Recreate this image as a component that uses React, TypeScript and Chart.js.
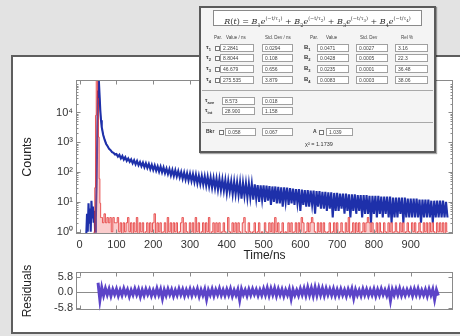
import React, { useEffect, useRef } from 'react';
import { Chart, registerables } from 'chart.js';

Chart.register(...registerables);
Chart.defaults.font.family = '"Liberation Sans", Arial, sans-serif';

// ---------- data ----------
// decay histogram (blue): early part 2 ns bins, tail 4 ns bins
const earlyT0 = 18;
const earlyStep = 2;
const tailT0 = 60;
const tailStep = 4;

const decayEarly = [0, 4, 1, 9, 2, 6, 1, 11, 3, 7, 2, 5, 1, 3, 40, 3000, 50000, 125000, 40000, 12000, 5500];
const decayTail = [
  3200, 1750, 1200, 880, 740, 600, 545, 470, 445, 390,
  405, 330, 380, 288, 350, 262, 318, 238, 285, 222,
  268, 198, 250, 182, 238, 170, 218, 158, 208, 146,
  198, 138, 188, 126, 176, 118, 168, 112, 156, 104,
  152, 98, 143, 92, 132, 86, 127, 78, 119, 74,
  116, 71, 108, 66, 101, 60, 97, 56, 92, 52,
  89, 50, 85, 46, 82, 42, 76, 40, 74, 38,
  72, 35, 70, 33, 66, 30, 63, 29, 61, 26,
  60, 25, 57, 24, 54, 20, 51, 22, 49, 18,
  48, 18, 46, 17, 45, 13, 43, 16, 42, 14,
  41, 14, 40, 12, 39, 13, 37, 10, 36, 12,
  36, 10, 35, 11, 34, 8, 33, 10, 33, 9,
  32, 9, 31, 7, 31, 10, 30, 8, 29, 9,
  28, 8, 27, 9, 27, 5, 26, 8, 25, 7,
  25, 7, 24, 8, 24, 4, 23, 7, 23, 6,
  22, 6, 22, 5, 21, 6, 21, 3, 20, 5,
  20, 5, 19, 6, 19, 4, 19, 5, 18, 3,
  18, 5, 18, 4, 17, 5, 17, 3, 17, 4,
  17, 4, 16, 2, 16, 4, 16, 3, 16, 4,
  15, 3, 15, 4, 15, 3, 15, 2, 14, 3,
  14, 3, 14, 4, 14, 2, 14, 3, 13, 3,
  13, 3, 13, 3, 13, 3, 12, 2, 12, 3,
  12, 3, 12, 3, 11, 2, 11, 3, 11, 3,
  11, 3, 11, 3, 10, 3,
];

// instrument response (red)
const irfEarly = [0, 0, 0, 0, 0, 0, 0, 0, 0, 0, 0, 1, 30, 8000, 125000, 125000, 30000, 1500, 60, 9, 3];
const irfTail = [
  3, 2, 4, 2, 3, 2, 3, 1, 3, 2,
  2, 3, 1, 2, 0, 2, 1, 2, 3, 1,
  2, 0, 2, 1, 3, 0, 2, 1, 2, 0,
  1, 2, 0, 2, 1, 2, 4, 0, 2, 1,
  2, 0, 1, 2, 0, 3, 1, 2, 0, 2,
  1, 2, 0, 1, 2, 3, 0, 2, 1, 0,
  2, 1, 2, 0, 3, 1, 2, 0, 1, 2,
  0, 2, 1, 3, 0, 1, 2, 0, 2, 1,
  2, 0, 1, 2, 1, 0, 3, 1, 0, 2,
  1, 2, 0, 2, 1, 0, 2, 3, 1, 0,
  2, 1, 0, 1, 2, 0, 1, 2, 0, 1,
  0, 2, 1, 0, 2, 1, 2, 0, 3, 1,
  2, 0, 1, 2, 0, 1, 0, 2, 1, 2,
  0, 1, 2, 0, 2, 1, 3, 2, 0, 1,
  2, 1, 2, 3, 2, 1, 0, 2, 1, 2,
  0, 2, 1, 0, 1, 2, 0, 1, 2, 0,
  2, 0, 1, 2, 1, 0, 2, 1, 3, 0,
  1, 2, 0, 2, 1, 2, 0, 1, 2, 1,
  2, 3, 2, 1, 2, 0, 1, 2, 0, 2,
  1, 0, 2, 1, 0, 2, 1, 2, 0, 1,
  2, 1, 0, 2, 1, 2, 0, 1, 2, 1,
  0, 2, 1, 2, 0, 1, 2, 1, 0, 2,
  1, 2, 0, 2, 1, 2, 1, 0, 2, 1,
  2, 1, 2, 0, 2, 1,
];

// fitted curve
const fitTimes = [52, 56, 60, 66, 72, 80, 90, 100, 120, 150, 200, 250, 300, 400, 500, 600, 700, 800, 900, 1000];
const fitCounts = [100000, 11000, 3000, 1450, 920, 610, 460, 370, 280, 205, 140, 97, 70, 36, 23, 16, 11.5, 8.8, 7, 5.2];

// weighted residuals
const residT0 = 50;
const residStep = 5;
const residuals = [
  3.6, -2.9, 1.8, -1.2, 1.5, -0.9, 1.3, -1.4, 1.1, -0.8,
  1.2, -1.3, 0.9, -1.1, 1.4, -0.7, 1.0, -1.5, 0.8, -1.0,
  1.3, -0.9, 1.1, -1.6, 0.9, -1.2, 1.2, -0.8, 1.0, -1.3,
  0.8, -1.1, 1.4, -1.0, 1.1, -2.3, 0.9, -1.2, 1.2, -0.9,
  1.0, -1.4, 0.8, -1.1, 1.3, -0.9, 1.1, -1.3, 0.9, -1.0,
  1.2, -1.2, 1.0, -0.8, 1.3, -1.5, 0.9, -1.1, 1.1, -2.6,
  0.8, -1.0, 1.2, -1.3, 1.0, -0.9, 1.4, -1.1, 0.9, -1.2,
  1.1, -1.0, 1.3, -1.4, 0.8, -1.1, 1.0, -2.9, 1.2, -0.9,
  0.9, -1.3, 1.1, -1.0, 1.2, -0.8, 1.0, -1.2, 0.9, -1.1,
  1.3, -1.0, 1.6, -1.2, 1.4, -0.9, 1.5, -1.3, 1.2, -1.0,
  1.1, -1.4, 0.9, -1.0, 1.2, -2.4, 1.0, -1.1, 0.8, -1.2,
  1.3, -0.9, 1.5, -1.2, 1.8, -1.0, 1.6, -1.3, 1.9, -1.1,
  1.7, -1.0, 1.5, -1.2, 1.4, -0.9, 1.2, -1.1, 1.3, -1.3,
  1.0, -1.2, 1.2, -1.0, 0.9, -1.4, 1.1, -0.9, 1.3, -2.2,
  1.0, -1.1, 0.8, -1.3, 1.2, -1.0, 1.1, -1.2, 0.9, -1.0,
  1.2, -1.4, 1.0, -1.1, 1.3, -0.9, 0.9, -1.2, 1.1, -3.1,
  1.0, -1.1, 1.2, -1.0, 1.4, -1.2, 0.9, -1.1, 1.0, -0.8,
  1.1, -1.3, 1.2, -1.0, 1.3, -1.2, 0.8, -1.1, 1.0, -1.4,
  1.2, -1.0, 1.1, -2.7, 0.9, -1.2,
];

// axes
const xMin = -10;
const xMax = 1015;
const xTickValues = [0, 100, 200, 300, 400, 500, 600, 700, 800, 900];
const yMin = 0.84;
const yMax = 123000;
const yTickValues = [1, 10, 100, 1000, 10000];
const yTickLabels = ['10⁰', '10¹', '10²', '10³', '10⁴'];
const residMin = -6.8;
const residMax = 7.8;
const residTickValues = [-5.8, 0, 5.8];
const residTickLabels = ['-5.8', '0.0', '5.8'];

// fit-parameter panel
const tauValues = ['2.2841', '8.8044', '46.679', '275.535'];
const tauErrors = ['0.0294', '0.108', '0.656', '3.879'];
const ampValues = ['0.0471', '0.0428', '0.0235', '0.0083'];
const ampErrors = ['0.0027', '0.0005', '0.0001', '0.0003'];
const relPercents = ['3.16', '22.3', '36.48', '38.06'];
const avgLabels = ['ave', 'int'];
const avgValues = ['8.573', '28.900'];
const avgErrors = ['0.018', '1.158'];
const bkrValue = '0.058';
const bkrError = '0.067';
const aValue = '1.039';
const chiSquared = '1.1739';

// ---------- helpers ----------
const toPoints = (t0: number, step: number, vals: number[]) =>
  vals.map((v, i) => ({ x: t0 + i * step, y: v <= 0 ? yMin : v }));

const framePlugin = {
  id: 'frame',
  beforeDatasetsDraw(chart: any, _a: any, opts: any) {
    if (!opts.zeroLine) return;
    const { ctx, chartArea: a, scales } = chart;
    const py = Math.round(scales.y.getPixelForValue(0)) + 0.5;
    ctx.save();
    ctx.strokeStyle = '#8c8c8c';
    ctx.lineWidth = 1;
    ctx.beginPath();
    ctx.moveTo(a.left, py);
    ctx.lineTo(a.right, py);
    ctx.stroke();
    ctx.restore();
  },
  afterDatasetsDraw(chart: any, _a: any, opts: any) {
    const { ctx, chartArea: a, scales } = chart;
    const xs = scales.x;
    const ys = scales.y;
    ctx.save();
    ctx.strokeStyle = '#8a8a8a';
    ctx.lineWidth = 1;
    const seg = (x1: number, y1: number, x2: number, y2: number) => {
      ctx.beginPath();
      ctx.moveTo(x1, y1);
      ctx.lineTo(x2, y2);
      ctx.stroke();
    };
    const L = Math.round(a.left) + 0.5;
    const R = Math.round(a.right) - 0.5;
    const T = Math.round(a.top) + 0.5;
    const B = Math.round(a.bottom) - 0.5;
    ctx.strokeRect(L, T, R - L, B - T);
    for (const v of opts.xTicks || []) {
      const px = Math.round(xs.getPixelForValue(v)) + 0.5;
      seg(px, B, px, B - 4);
      seg(px, T, px, T + 4);
    }
    for (const t of opts.yTicks || []) {
      const py = Math.round(ys.getPixelForValue(t.v)) + 0.5;
      seg(L, py, L + t.len, py);
      seg(R, py, R - t.len, py);
    }
    ctx.restore();
  },
};

const tickFont = { size: 11 };
const titleFont = { size: 12 };

function DecayChart() {
  const ref = useRef<HTMLCanvasElement>(null);
  useEffect(() => {
    const bluePts = [...toPoints(earlyT0, earlyStep, decayEarly), ...toPoints(tailT0, tailStep, decayTail)];
    const redPts = [...toPoints(earlyT0, earlyStep, irfEarly), ...toPoints(tailT0, tailStep, irfTail)];
    const fitPts = fitTimes.map((t, i) => ({ x: t, y: fitCounts[i] }));
    const yTicks: { v: number; len: number }[] = [];
    yTickValues.forEach((d) => {
      yTicks.push({ v: d, len: 4 });
      for (let m = 2; m <= 9; m++) if (d * m < yMax) yTicks.push({ v: d * m, len: 2 });
    });
    const chart = new Chart(ref.current as HTMLCanvasElement, {
      type: 'line',
      data: {
        datasets: [
          { data: redPts, borderColor: 'rgba(226,38,38,0.75)', backgroundColor: 'rgba(240,110,110,0.35)', fill: 'start', stepped: 'middle', borderWidth: 1, pointRadius: 0 },
          { data: bluePts, borderColor: 'rgb(30,48,170)', borderWidth: 2.1, pointRadius: 0, tension: 0, fill: false },
          { data: fitPts, borderColor: 'rgb(120,150,120)', borderWidth: 1, pointRadius: 0, tension: 0, fill: false },
        ],
      },
      options: {
        animation: false,
        responsive: false,
        maintainAspectRatio: false,
        layout: { padding: { left: 0, right: 5, top: 10, bottom: 0 } },
        plugins: {
          legend: { display: false },
          tooltip: { enabled: false },
          frame: { xTicks: xTickValues, yTicks },
        } as any,
        scales: {
          x: {
            type: 'linear',
            min: xMin,
            max: xMax,
            afterBuildTicks: (s: any) => { s.ticks = xTickValues.map((v) => ({ value: v })); },
            afterFit: (s: any) => { s.height = 32; },
            grid: { display: false, drawTicks: false, tickLength: 0 },
            border: { display: false },
            ticks: { font: tickFont, color: '#333', padding: 4, maxRotation: 0, autoSkip: false },
            title: { display: true, text: 'Time/ns', font: titleFont, color: '#222', padding: { top: 0, bottom: 3.5 } },
          },
          y: {
            type: 'logarithmic',
            min: yMin,
            max: yMax,
            afterBuildTicks: (s: any) => { s.ticks = yTickValues.map((v) => ({ value: v })); },
            afterFit: (s: any) => { s.width = 62; },
            grid: { display: false, drawTicks: false, tickLength: 0 },
            border: { display: false },
            ticks: {
              font: tickFont,
              color: '#333',
              padding: 3,
              autoSkip: false,
              callback: (v: any) => yTickLabels[yTickValues.indexOf(Number(v))] ?? '',
            },
            title: { display: true, text: 'Counts', font: { size: 12.5 }, color: '#222', padding: { top: 6.5, bottom: 0 } },
          },
        },
      } as any,
      plugins: [framePlugin as any],
    });
    return () => chart.destroy();
  }, []);
  return <canvas ref={ref} width={444} height={196} style={{ position: 'absolute', left: 14, top: 70, width: 444, height: 196 }} />;
}

function ResidualChart() {
  const ref = useRef<HTMLCanvasElement>(null);
  useEffect(() => {
    const pts = residuals.map((v, i) => ({ x: residT0 + i * residStep, y: v }));
    const chart = new Chart(ref.current as HTMLCanvasElement, {
      type: 'line',
      data: {
        datasets: [
          { data: pts, borderColor: 'rgb(92,68,200)', borderWidth: 3, pointRadius: 0, tension: 0, fill: false },
        ],
      },
      options: {
        animation: false,
        responsive: false,
        maintainAspectRatio: false,
        layout: { padding: { left: 0, right: 5, top: 6.5, bottom: 0 } },
        plugins: {
          legend: { display: false },
          tooltip: { enabled: false },
          frame: { xTicks: xTickValues, yTicks: residTickValues.map((v) => ({ v, len: 4 })), zeroLine: true },
        } as any,
        scales: {
          x: {
            type: 'linear',
            min: xMin,
            max: xMax,
            afterBuildTicks: (s: any) => { s.ticks = xTickValues.map((v) => ({ value: v })); },
            afterFit: (s: any) => { s.height = 8; },
            grid: { display: false, drawTicks: false, tickLength: 0 },
            border: { display: false },
            ticks: { display: false },
          },
          y: {
            type: 'linear',
            min: residMin,
            max: residMax,
            afterBuildTicks: (s: any) => { s.ticks = residTickValues.map((v) => ({ value: v })); },
            afterFit: (s: any) => { s.width = 62; },
            grid: { display: false, drawTicks: false, tickLength: 0 },
            border: { display: false },
            ticks: {
              font: tickFont,
              color: '#333',
              padding: 3,
              autoSkip: false,
              callback: (v: any) => residTickLabels[residTickValues.indexOf(Number(v))] ?? '',
            },
            title: { display: true, text: 'Residuals', font: titleFont, color: '#222', padding: { top: 6.5, bottom: 0 } },
          },
        },
      } as any,
      plugins: [framePlugin as any],
    });
    return () => chart.destroy();
  }, []);
  return <canvas ref={ref} width={444} height={58} style={{ position: 'absolute', left: 14, top: 262, width: 444, height: 58 }} />;
}

// ---------- fit parameter panel ----------
const small = '"Liberation Sans", Arial, sans-serif';

function Field({ x, y, w, text }: { x: number; y: number; w: number; text: string }) {
  return (
    <div style={{ position: 'absolute', left: x, top: y, width: w, height: 8, boxSizing: 'border-box', border: '1px solid #a0a0a0', background: '#fff', font: `5px ${small}`, lineHeight: '6px', paddingLeft: 2, color: '#444', whiteSpace: 'nowrap', overflow: 'hidden' }}>{text}</div>
  );
}

function Check({ x, y }: { x: number; y: number }) {
  return <div style={{ position: 'absolute', left: x, top: y, width: 5, height: 5, boxSizing: 'border-box', border: '1px solid #777', background: '#fff' }} />;
}

function Label({ x, y, children, size = 6 }: { x: number; y: number; children: any; size?: number }) {
  return <div style={{ position: 'absolute', left: x, top: y, font: `bold ${size}px ${small}`, color: '#333', whiteSpace: 'nowrap', lineHeight: '7px' }}>{children}</div>;
}

function Header({ x, text }: { x: number; text: string }) {
  return <div style={{ position: 'absolute', left: x, top: 35, font: `4.5px ${small}`, color: '#444', whiteSpace: 'nowrap' }}>{text}</div>;
}

const subS = { fontSize: '4px', verticalAlign: 'sub' } as const;

function Term({ n }: { n: number }) {
  return (
    <span>
      <i>B</i><sub style={{ fontSize: '5px' }}>{n}</sub><i>e</i>
      <sup style={{ fontSize: '5px' }}>(−t/τ<sub style={{ fontSize: '4px' }}>{n}</sub>)</sup>
    </span>
  );
}

function Inset() {
  const rowTops = [44, 54, 65, 76];
  return (
    <>
      <div style={{ position: 'absolute', left: 199, top: 6, width: 237, height: 147, boxSizing: 'border-box', border: '2px solid #5a5a5a', background: '#f4f4f4', boxShadow: '1px 1px 1px rgba(0,0,0,0.35)' }} />
      <div style={{ position: 'absolute', left: 213, top: 10, width: 209, height: 16, boxSizing: 'border-box', border: '1px solid #8a8a8a', background: '#fff', font: `8px "DejaVu Serif", serif`, color: '#333', textAlign: 'center', lineHeight: '15px', whiteSpace: 'nowrap' }}>
        <i>R</i>(<i>t</i>) = <Term n={1} /> + <Term n={2} /> + <Term n={3} /> + <Term n={4} />
      </div>
      <Header x={214} text="Par." />
      <Header x={226} text="Value / ns" />
      <Header x={265} text="Std. Dev / ns" />
      <Header x={310} text="Par." />
      <Header x={326} text="Value" />
      <Header x={360} text="Std. Dev" />
      <Header x={401} text="Rel %" />
      {rowTops.map((y, i) => (
        <React.Fragment key={i}>
          <Label x={206} y={y}>τ<span style={subS}>{i + 1}</span></Label>
          <Check x={215} y={y + 1.5} />
          <Field x={220} y={y} w={34} text={tauValues[i]} />
          <Field x={262} y={y} w={31} text={tauErrors[i]} />
          <Label x={304} y={y}>B<span style={subS}>{i + 1}</span></Label>
          <Field x={317} y={y} w={32} text={ampValues[i]} />
          <Field x={356} y={y} w={32} text={ampErrors[i]} />
          <Field x={395} y={y} w={33} text={relPercents[i]} />
        </React.Fragment>
      ))}
      <div style={{ position: 'absolute', left: 202, top: 90, width: 231, height: 1, background: '#a8a8a8' }} />
      {avgValues.map((v, i) => (
        <React.Fragment key={'a' + i}>
          <Label x={205} y={97 + i * 10} size={5.5}>τ<span style={subS}>{avgLabels[i]}</span></Label>
          <Field x={222} y={97 + i * 10} w={33} text={v} />
          <Field x={262} y={97 + i * 10} w={31} text={avgErrors[i]} />
        </React.Fragment>
      ))}
      <div style={{ position: 'absolute', left: 202, top: 122, width: 231, height: 1, background: '#a8a8a8' }} />
      <Label x={206} y={128} size={5}>Bkr</Label>
      <Check x={219} y={129.5} />
      <Field x={225} y={128} w={31} text={bkrValue} />
      <Field x={262} y={128} w={31} text={bkrError} />
      <Label x={313} y={128} size={5}>A</Label>
      <Check x={319} y={129.5} />
      <Field x={326} y={128} w={27} text={aValue} />
      <div style={{ position: 'absolute', left: 305, top: 141, font: `5.5px ${small}`, color: '#333', whiteSpace: 'nowrap' }}>χ² = {chiSquared}</div>
    </>
  );
}

export default function App() {
  return (
    <div style={{ position: 'fixed', left: 0, top: 0, width: 460, height: 336, overflow: 'hidden', background: '#e3e3e3' }}>
      <div style={{ position: 'absolute', left: 11, top: 55, width: 460, height: 279, boxSizing: 'border-box', border: '2px solid #5e5e5e', background: '#fff' }} />
      <DecayChart />
      <ResidualChart />
      <Inset />
    </div>
  );
}
